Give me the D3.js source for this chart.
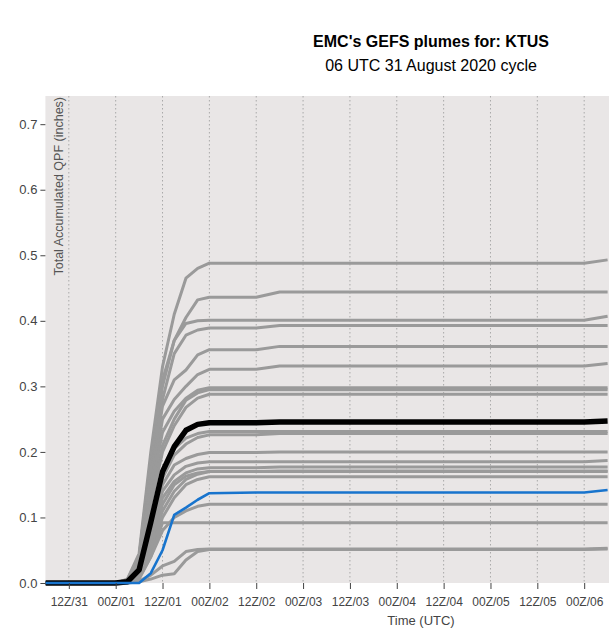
<!DOCTYPE html>
<html>
<head>
<meta charset="utf-8">
<script src="https://cdn.jsdelivr.net/npm/d3@7"></script>
<style>
  body { margin: 0; background: #fff; }
  text { font-family: "Liberation Sans", Arial, sans-serif; }
</style>
</head>
<body>
<div id="chart"></div>
<script>
// cycle start: 06 UTC 31 Aug 2020, hours are forecast hours from it
const cycleStart = Date.UTC(2020, 7, 31, 6);
const hours = [0, 18, 21, 24, 27, 30, 33, 36, 39, 42, 54, 60, 138, 144];

// ensemble members (grey)
const memberQpf = [
  [0, 0, 0.006, 0.045, 0.2, 0.33, 0.41, 0.465, 0.48, 0.488, 0.488, 0.488, 0.488, 0.493],
  [0, 0, 0.005, 0.04, 0.19, 0.31, 0.37, 0.405, 0.432, 0.436, 0.436, 0.444, 0.444, 0.444],
  [0, 0, 0.005, 0.04, 0.18, 0.3, 0.37, 0.396, 0.4, 0.401, 0.401, 0.401, 0.401, 0.407],
  [0, 0, 0.004, 0.035, 0.17, 0.28, 0.35, 0.378, 0.386, 0.389, 0.389, 0.393, 0.393, 0.393],
  [0, 0, 0.004, 0.03, 0.16, 0.27, 0.31, 0.325, 0.348, 0.356, 0.356, 0.361, 0.361, 0.361],
  [0, 0, 0.003, 0.03, 0.15, 0.25, 0.28, 0.3, 0.318, 0.326, 0.326, 0.331, 0.331, 0.335],
  [0, 0, 0.003, 0.028, 0.14, 0.23, 0.262, 0.282, 0.294, 0.298, 0.298, 0.298, 0.298, 0.298],
  [0, 0, 0.003, 0.025, 0.13, 0.21, 0.25, 0.279, 0.29, 0.295, 0.295, 0.295, 0.295, 0.295],
  [0, 0, 0.002, 0.022, 0.12, 0.2, 0.24, 0.268, 0.282, 0.288, 0.288, 0.288, 0.288, 0.288],
  [0, 0, 0.002, 0.02, 0.1, 0.17, 0.205, 0.221, 0.228, 0.231, 0.231, 0.231, 0.231, 0.231],
  [0, 0, 0.002, 0.02, 0.09, 0.16, 0.195, 0.212, 0.222, 0.226, 0.226, 0.228, 0.228, 0.228],
  [0, 0, 0.002, 0.018, 0.085, 0.15, 0.18, 0.19, 0.196, 0.199, 0.199, 0.2, 0.2, 0.2],
  [0, 0, 0.002, 0.016, 0.08, 0.14, 0.165, 0.178, 0.183, 0.185, 0.185, 0.185, 0.185, 0.187],
  [0, 0, 0.001, 0.015, 0.07, 0.13, 0.155, 0.168, 0.174, 0.176, 0.176, 0.177, 0.177, 0.177],
  [0, 0, 0.001, 0.014, 0.065, 0.12, 0.15, 0.163, 0.168, 0.17, 0.17, 0.17, 0.17, 0.17],
  [0, 0, 0.001, 0.012, 0.06, 0.11, 0.14, 0.158, 0.166, 0.17, 0.17, 0.171, 0.171, 0.171],
  [0, 0, 0.001, 0.01, 0.05, 0.1, 0.13, 0.15, 0.158, 0.162, 0.162, 0.162, 0.162, 0.162],
  [0, 0, 0, 0.008, 0.04, 0.08, 0.1, 0.11, 0.117, 0.12, 0.12, 0.12, 0.12, 0.12],
  [0, 0, 0, 0.006, 0.04, 0.092, 0.092, 0.092, 0.092, 0.092, 0.092, 0.092, 0.092, 0.092],
  [0, 0, 0, 0.003, 0.012, 0.026, 0.033, 0.048, 0.051, 0.052, 0.052, 0.052, 0.052, 0.053],
  [0, 0, 0, 0.002, 0.006, 0.012, 0.014, 0.035, 0.048, 0.051, 0.051, 0.051, 0.051, 0.052]
];
// ensemble mean (black) and control (blue)
const meanQpf = [0, 0, 0.002, 0.02, 0.093, 0.17, 0.208, 0.233, 0.242, 0.2445, 0.2445, 0.2455, 0.2455, 0.247];
const controlQpf = [0, 0, 0, 0, 0.015, 0.05, 0.104, 0.115, 0.127, 0.137, 0.138, 0.138, 0.138, 0.142];

const yTicks = [0, 0.1, 0.2, 0.3, 0.4, 0.5, 0.6, 0.7];
const titleText = "EMC's GEFS plumes for: KTUS";
const subtitleText = "06 UTC 31 August 2020 cycle";
const yLabel = "Total Accumulated QPF (inches)";
const xLabel = "Time (UTC)";

const width = 609, height = 640;
const panelLeft = 45.4, panelTop = 96, panelBottom = 583, panelRight = 795;

const hourMs = 3600 * 1000;
const x = d3.scaleUtc()
  .domain([new Date(cycleStart), new Date(cycleStart + 192 * hourMs)])
  .range([panelLeft, panelRight]);
const y = d3.scaleLinear().domain([0, 0.743]).range([panelBottom, panelTop]);

const svg = d3.select('#chart').append('svg')
  .attr('width', width)
  .attr('height', height);

// panel
svg.append('rect')
  .attr('x', panelLeft).attr('y', panelTop)
  .attr('width', panelRight - panelLeft).attr('height', panelBottom - panelTop)
  .attr('fill', '#e9e6e6');

svg.append('clipPath').attr('id', 'panel')
  .append('rect')
  .attr('x', panelLeft).attr('y', panelTop - 10)
  .attr('width', panelRight - panelLeft).attr('height', panelBottom - panelTop + 20);

// 12-hourly ticks over the visible part of the time axis
const tickDates = d3.utcHour.every(12).range(new Date(cycleStart + 1), new Date(cycleStart + 144 * hourMs));

// dotted vertical grid
svg.append('g')
  .selectAll('line')
  .data(tickDates)
  .join('line')
  .attr('x1', d => x(d)).attr('x2', d => x(d))
  .attr('y1', panelTop).attr('y2', panelBottom)
  .attr('stroke', '#a9a9a9')
  .attr('stroke-width', 1)
  .attr('stroke-dasharray', '1.5,2.5');

// y label inside panel
svg.append('text')
  .attr('transform', `translate(63,${panelTop + 1}) rotate(-90)`)
  .attr('text-anchor', 'end')
  .attr('font-size', 12.5)
  .attr('fill', '#555')
  .text(yLabel);

const line = d3.line()
  .x((d, i) => x(new Date(cycleStart + hours[i] * hourMs)))
  .y(d => y(d));

const plot = svg.append('g').attr('clip-path', 'url(#panel)');

plot.selectAll('path.member')
  .data(memberQpf)
  .join('path')
  .attr('class', 'member')
  .attr('d', d => line(d))
  .attr('fill', 'none')
  .attr('stroke', '#9a9a9a')
  .attr('stroke-width', 3)
  .attr('stroke-linejoin', 'round');

plot.append('path')
  .attr('d', line(meanQpf))
  .attr('fill', 'none')
  .attr('stroke', '#000')
  .attr('stroke-width', 5.5)
  .attr('stroke-linejoin', 'round');

plot.append('path')
  .attr('d', line(controlQpf))
  .attr('fill', 'none')
  .attr('stroke', '#1874cd')
  .attr('stroke-width', 2.6)
  .attr('stroke-linejoin', 'round');

// axes
const yAxis = svg.append('g')
  .attr('transform', `translate(${panelLeft},0)`)
  .call(d3.axisLeft(y).tickValues(yTicks).tickFormat(d3.format('.1f')).tickSize(5).tickPadding(3));
yAxis.select('.domain').remove();
yAxis.selectAll('text').attr('font-size', 13).attr('fill', '#444').style('font-family', '"Liberation Sans", Arial, sans-serif');
yAxis.selectAll('line').attr('stroke', '#444');

const xAxis = svg.append('g')
  .attr('transform', `translate(0,${panelBottom})`)
  .call(d3.axisBottom(x).tickValues(tickDates).tickFormat(d3.utcFormat('%HZ/%d')).tickSize(6).tickPadding(8));
xAxis.select('.domain').remove();
xAxis.selectAll('text').attr('font-size', 12).attr('fill', '#444').style('font-family', '"Liberation Sans", Arial, sans-serif');
xAxis.selectAll('line').attr('stroke', '#444');

svg.append('text')
  .attr('x', 421).attr('y', 625)
  .attr('text-anchor', 'middle')
  .attr('font-size', 13)
  .attr('fill', '#444')
  .text(xLabel);

// titles
svg.append('text')
  .attr('x', 431).attr('y', 47)
  .attr('text-anchor', 'middle')
  .attr('font-size', 16)
  .attr('font-weight', 'bold')
  .attr('fill', '#000')
  .text(titleText);

svg.append('text')
  .attr('x', 431).attr('y', 71)
  .attr('text-anchor', 'middle')
  .attr('font-size', 16)
  .attr('fill', '#000')
  .text(subtitleText);
</script>
</body>
</html>
